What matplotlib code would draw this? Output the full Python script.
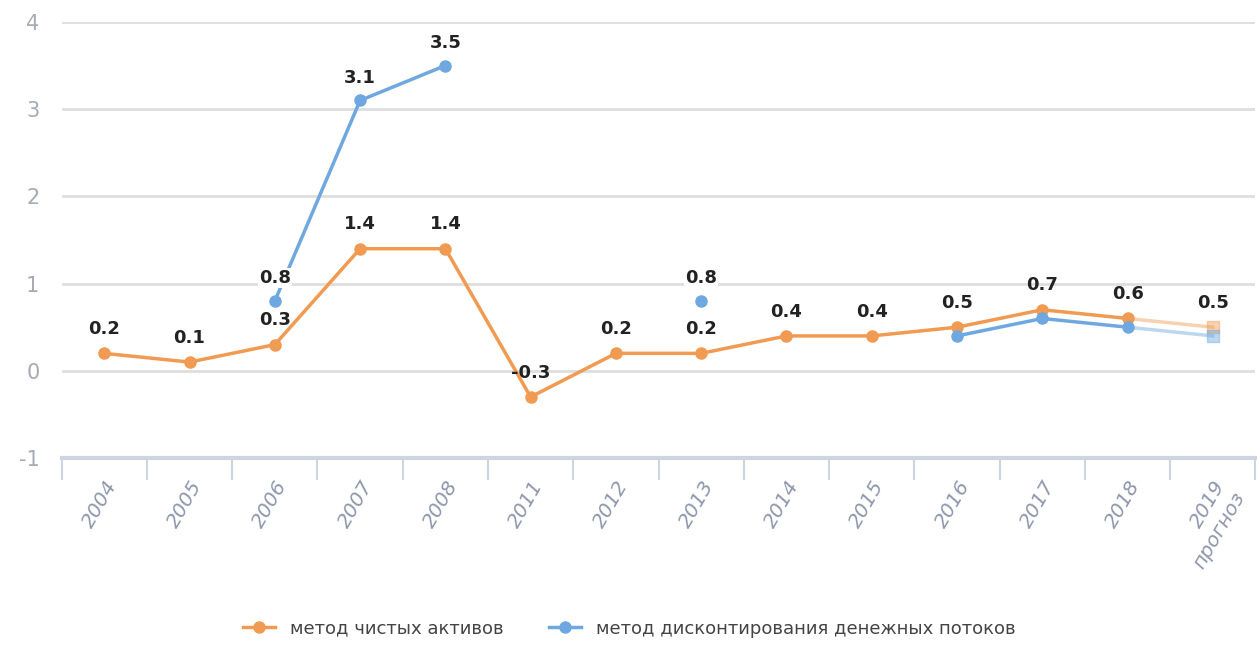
import numpy as np
import matplotlib
matplotlib.use("Agg")
import matplotlib.pyplot as plt

plt.rcParams["axes.unicode_minus"] = False

# datos
years = ["2004", "2005", "2006", "2007", "2008", "2011", "2012", "2013",
         "2014", "2015", "2016", "2017", "2018", "2019\nпрогноз"]
net_assets = [0.2, 0.1, 0.3, 1.4, 1.4, -0.3, 0.2, 0.2, 0.4, 0.4, 0.5, 0.7, 0.6, 0.5]
dcf = [None, None, 0.8, 3.1, 3.5, None, None, 0.8, None, None, 0.4, 0.6, 0.5, 0.4]
dcf_labels = [None, None, "0.8", "3.1", "3.5", None, None, "0.8", None, None, None, None, None, None]

orange = "#f09a52"
blue = "#6fa8e0"

fig = plt.figure(figsize=(12.58, 6.46), dpi=100)
ax = fig.add_axes([0.049, 0.291, 0.949, 0.675])

x = np.arange(len(years))
na = np.array(net_assets, dtype=float)
dc = np.array([np.nan if v is None else v for v in dcf], dtype=float)

# serie 1: metodo de activos netos (ultimo tramo = pronostico, mas claro)
ax.plot(x[:-1], na[:-1], color=orange, lw=2.5, marker="o", ms=8, zorder=3,
        label="метод чистых активов")
ax.plot(x[-2:], na[-2:], color=orange, lw=2.5, alpha=0.45, zorder=2)
ax.plot(x[-1], na[-1], color=orange, marker="s", ms=8, alpha=0.45, zorder=2)

# serie 2: metodo DCF
ax.plot(x[:-1], dc[:-1], color=blue, lw=2.5, marker="o", ms=8, zorder=3,
        label="метод дисконтирования денежных потоков")
ax.plot(x[-2:], dc[-2:], color=blue, lw=2.5, alpha=0.45, zorder=2)
ax.plot(x[-1], dc[-1], color=blue, marker="s", ms=8, alpha=0.45, zorder=2)

# etiquetas de datos
for i, v in enumerate(net_assets):
    ax.annotate(f"{v:g}", (x[i], v), xytext=(0, 11), textcoords="offset points",
                ha="center", va="bottom", fontsize=13, fontweight="bold", color="#222222",
                zorder=5)
for i, lab in enumerate(dcf_labels):
    if lab is None:
        continue
    ax.annotate(lab, (x[i], dc[i]), xytext=(0, 10), textcoords="offset points",
                ha="center", va="bottom", fontsize=13, fontweight="bold", color="#222222",
                bbox=dict(boxstyle="square,pad=0.05", fc="white", ec="none"), zorder=5)

ax.set_ylim(-1, 4)
ax.set_xlim(-0.5, len(years) - 0.5)
ax.set_yticks([-1, 0, 1, 2, 3, 4])
ax.grid(axis="y", color="#dedede", lw=2)
ax.set_axisbelow(True)
for s in ["top", "right", "left"]:
    ax.spines[s].set_visible(False)
ax.spines["bottom"].set_color("#cfd4e2")
ax.spines["bottom"].set_linewidth(3)

ax.tick_params(axis="y", length=0, labelsize=15, labelcolor="#a7aab5", pad=16)
ax.set_xticks(x)
ax.set_xticklabels(years, rotation=60, ha="right", rotation_mode="anchor",
                   fontsize=14.5, color="#8f97ad", fontstyle="italic")
ax.tick_params(axis="x", which="major", length=0, pad=14)
ax.set_xticks(np.arange(-0.5, len(years), 1), minor=True)
ax.tick_params(axis="x", which="minor", length=16, width=1.5, color="#cfd4e2")

fig.legend(loc="lower center", bbox_to_anchor=(0.5, -0.012), ncol=2, frameon=False,
           fontsize=13, handlelength=1.8, columnspacing=2.5, labelcolor="#444444")

fig.savefig("out.png", dpi=100)
